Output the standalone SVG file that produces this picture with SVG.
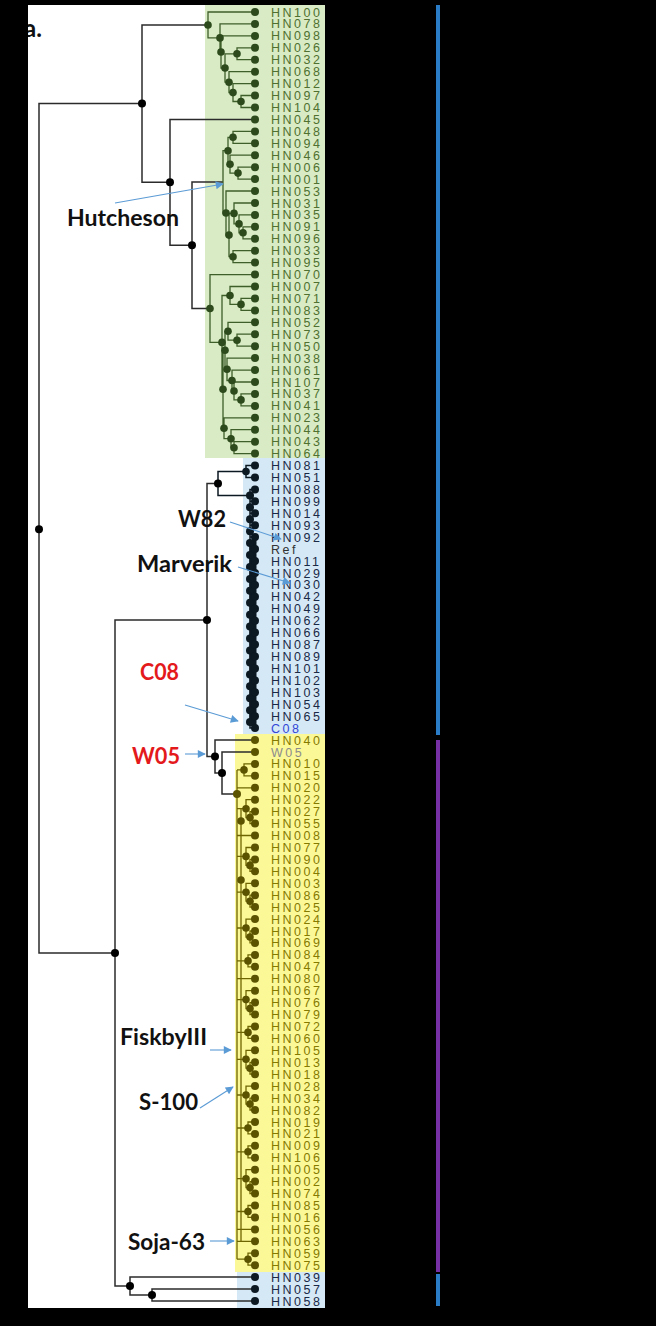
<svg xmlns="http://www.w3.org/2000/svg" width="656" height="1326" viewBox="0 0 656 1326">
<style>
.leaf text{font-family:"Liberation Sans",Arial,sans-serif;font-size:12.5px;letter-spacing:2.5px}
.g circle{fill:#2c4a1b}.g text{fill:#4f7030}
.b circle{fill:#0c1822}.b text{fill:#1a2946}
.y circle{fill:#5c5300}.y text{fill:#857a00}
.outer{fill:none;stroke:#2b2b2b;stroke-width:1.5}
.eg{fill:none;stroke:#3f5f2a;stroke-width:1.3}
.eb{fill:none;stroke:#0c1822;stroke-width:1.5}
.ey{fill:none;stroke:#6e6500;stroke-width:1.3}
.dk{fill:#000}.dg{fill:#2c4a1b}.db{fill:#0c1822}.dy{fill:#5c5300}
.ann{font-family:Lato,"Open Sans",sans-serif;font-weight:bold;font-size:22px;fill:#111}
.red{fill:#e3191c}
.arr{fill:none;stroke:#5b9bd5;stroke-width:1.1;marker-end:url(#ah)}
</style>
<defs>
<marker id="ah" viewBox="0 0 10 10" refX="9" refY="5" markerWidth="9" markerHeight="8" orient="auto" markerUnits="userSpaceOnUse"><path d="M0,0 L10,5 L0,10 z" fill="#5b9bd5"/></marker>
<clipPath id="wc"><rect x="28" y="5" width="297" height="1303"/></clipPath>
</defs>
<rect x="0" y="0" width="656" height="1326" fill="#000"/>
<rect x="28" y="5" width="297" height="1303" fill="#fff"/>
<rect x="205" y="5" width="120" height="453" fill="#d8ebc4"/>
<rect x="243" y="458" width="82" height="276" fill="#d4e8f6"/>
<rect x="235" y="734" width="90" height="538" fill="#fbf898"/>
<rect x="237" y="1272" width="88" height="36" fill="#d4e8f6"/>
<rect x="436" y="5" width="4" height="730" fill="#2a7cc7"/>
<rect x="436" y="740" width="4" height="532" fill="#7630a3"/>
<rect x="436" y="1274" width="4" height="32" fill="#2a7cc7"/>
<text x="24" y="37" clip-path="url(#wc)" style="font-family:Lato,sans-serif;font-weight:bold;font-size:24px;fill:#111">a.</text>

<g id="connectors">
<path class="outer" d="M142 103.6H39V953H115 M208 25H142V182.3H170 M255 119.4H170V245.2H192 M223 181.9H192V308.5H210 M207 620H115V1286H130 M255 1277.1H130V1295H152 M255 1289H152V1301H255 M218 483.4H207V756.5H215 M255 740H215V773H222 M255 752H222V794H237"/>
<path class="eg" d="M255 12H208V37.9H220 M255 23.9H220V52H221 M255 35.9H221V68H225 M237 53.8H225V82.2H229 M255 47.8H237V59.7H255 M255 71.7H229V92.6H233 M255 83.6H233V101.5H241 M255 95.5H241V107.5H255
M228 150.7H223V213H226 M233 137.3H228V164.2H230 M255 131.4H233V143.3H255 M255 155.2H230V173.1H238 M255 167.2H238V179.1H255 M255 191H226V235.1H229 M234 213.4H229V256.7H233 M255 203H234V223.9H239 M255 214.9H239V232.8H243 M255 226.8H243V238.8H255 M255 250.7H233V262.7H255
M255 274.6H210V342.4H222 M230 295.5H222V389.3H223 M255 286.5H230V304.4H241 M255 298.4H241V310.4H255 M225 350.3H223V428.3H224 M228 331.3H225V369.3H227 M255 322.3H228V340.2H237 M255 334.2H237V346.2H255 M255 358.1H227V380.5H232 M255 370.1H232V391H234 M255 382H234V399.9H241 M255 393.9H241V405.9H255 M255 417.8H224V438.7H231 M255 429.7H231V447.7H234 M255 441.7H234V453.6H255"/>
<path class="eb" d="M246 471.5H218V495.4H250 M255 465.5H246V477.5H255 M255 489.4H250V728.1H255 M250 501.3H255 M250 513.3H255 M250 525.2H255 M250 537.1H255 M250 549.1H255 M250 561H255 M250 573H255 M250 584.9H255 M250 596.8H255 M250 608.8H255 M250 620.7H255 M250 632.6H255 M250 644.6H255 M250 656.5H255 M250 668.4H255 M250 680.4H255 M250 692.3H255 M250 704.2H255 M250 716.2H255"/>
<path d="M253 540V726" stroke="#0c1822" stroke-width="7" fill="none"/>
<path class="ey" d="M237 769.9V1259.2 M241 808.7V1241.3
M237 769.9H244 M255 763.9H244V775.8H255 M237 787.8H255
M237 808.7H246 M255 799.7H246V817.6H250 M255 811.6H250V823.6H255 M237 835.5H255
M237 856.4H246 M255 847.5H246V865.4H250 M255 859.4H250V871.3H255
M237 892.2H246 M255 883.3H246V901.2H250 M255 895.2H250V907.1H255
M237 928H246 M255 919.1H246V937H250 M255 931H250V942.9H255
M237 960.9H248 M255 954.9H248V966.8H255 M237 978.7H255
M237 999.6H246 M255 990.7H246V1008.6H250 M255 1002.6H250V1014.5H255
M237 1032.4H248 M255 1026.5H248V1038.4H255
M237 1059.3H246 M255 1050.3H246V1068.2H250 M255 1062.3H250V1074.2H255
M237 1095H246 M255 1086.1H246V1104H250 M255 1098.1H250V1110H255
M237 1128H248 M255 1122H248V1133.9H255
M237 1151.8H248 M255 1145.8H248V1157.8H255
M237 1178.7H246 M255 1169.7H246V1187.6H250 M255 1181.6H250V1193.6H255
M237 1211.5H248 M255 1205.5H248V1217.4H255 M237 1229.4H255 M237 1241.3H255
M237 1259.2H248 M255 1253.2H248V1265.2H255"/>
</g>

<g id="internal-nodes">
<g class="dk"><circle cx="39" cy="529.3" r="4"/><circle cx="142" cy="103.6" r="4"/><circle cx="170" cy="182.3" r="4"/><circle cx="192" cy="245.2" r="4"/><circle cx="115" cy="953" r="4"/><circle cx="207" cy="620" r="4"/><circle cx="218" cy="483.4" r="4"/><circle cx="215" cy="756.5" r="4"/><circle cx="222" cy="773" r="4"/><circle cx="130" cy="1286" r="4"/><circle cx="152" cy="1295" r="4"/></g>
<g class="dg"><circle cx="208" cy="25" r="3.8"/><circle cx="220" cy="37.9" r="3.8"/><circle cx="221" cy="52" r="3.8"/><circle cx="237" cy="53.8" r="3.8"/><circle cx="225" cy="68" r="3.8"/><circle cx="229" cy="82.2" r="3.8"/><circle cx="233" cy="92.6" r="3.8"/><circle cx="241" cy="101.5" r="3.8"/>
<circle cx="228" cy="150.7" r="3.8"/><circle cx="233" cy="137.3" r="3.8"/><circle cx="230" cy="164.2" r="3.8"/><circle cx="238" cy="173.1" r="3.8"/><circle cx="226" cy="213" r="3.8"/><circle cx="229" cy="235.1" r="3.8"/><circle cx="234" cy="213.4" r="3.8"/><circle cx="239" cy="223.9" r="3.8"/><circle cx="243" cy="232.8" r="3.8"/><circle cx="233" cy="256.7" r="3.8"/>
<circle cx="210" cy="308.5" r="3.8"/><circle cx="222" cy="342.4" r="3.8"/><circle cx="230" cy="295.5" r="3.8"/><circle cx="241" cy="304.4" r="3.8"/><circle cx="223" cy="389.3" r="3.8"/><circle cx="225" cy="350.3" r="3.8"/><circle cx="228" cy="331.3" r="3.8"/><circle cx="237" cy="340.2" r="3.8"/><circle cx="227" cy="369.3" r="3.8"/><circle cx="232" cy="380.5" r="3.8"/><circle cx="234" cy="391" r="3.8"/><circle cx="241" cy="399.9" r="3.8"/><circle cx="224" cy="428.3" r="3.8"/><circle cx="231" cy="438.7" r="3.8"/><circle cx="234" cy="447.7" r="3.8"/></g>
<g class="db"><circle cx="246" cy="471.5" r="3.8"/><circle cx="250" cy="495.4" r="4"/><circle cx="250" cy="507.3" r="4"/><circle cx="250" cy="519.2" r="4"/><circle cx="250" cy="531.2" r="4"/><circle cx="250" cy="543.1" r="4"/><circle cx="250" cy="555" r="4"/><circle cx="250" cy="567" r="4"/><circle cx="250" cy="578.9" r="4"/><circle cx="250" cy="590.8" r="4"/><circle cx="250" cy="602.8" r="4"/><circle cx="250" cy="614.7" r="4"/><circle cx="250" cy="626.6" r="4"/><circle cx="250" cy="638.6" r="4"/><circle cx="250" cy="650.5" r="4"/><circle cx="250" cy="662.4" r="4"/><circle cx="250" cy="674.4" r="4"/><circle cx="250" cy="686.3" r="4"/><circle cx="250" cy="698.2" r="4"/><circle cx="250" cy="710.2" r="4"/><circle cx="250" cy="722.1" r="4"/></g>
<g class="dy"><circle cx="237" cy="794" r="4"/><circle cx="244" cy="769.9" r="3.8"/><circle cx="246" cy="808.7" r="3.8"/><circle cx="250" cy="817.6" r="3.8"/><circle cx="241" cy="821" r="3.8"/><circle cx="246" cy="856.4" r="3.8"/><circle cx="250" cy="865.4" r="3.8"/><circle cx="246" cy="892.2" r="3.8"/><circle cx="250" cy="901.2" r="3.8"/><circle cx="241" cy="880" r="3.8"/><circle cx="246" cy="928" r="3.8"/><circle cx="250" cy="937" r="3.8"/><circle cx="248" cy="960.9" r="3.8"/><circle cx="246" cy="999.6" r="3.8"/><circle cx="250" cy="1008.6" r="3.8"/><circle cx="248" cy="1032.4" r="3.8"/><circle cx="246" cy="1059.3" r="3.8"/><circle cx="250" cy="1068.2" r="3.8"/><circle cx="246" cy="1095" r="3.8"/><circle cx="250" cy="1104" r="3.8"/><circle cx="248" cy="1128" r="3.8"/><circle cx="248" cy="1151.8" r="3.8"/><circle cx="246" cy="1178.7" r="3.8"/><circle cx="250" cy="1187.6" r="3.8"/><circle cx="248" cy="1211.5" r="3.8"/><circle cx="248" cy="1259.2" r="3.8"/></g>
</g>

<g id="leaves">
<g id="n-HN100" class="leaf g" transform="translate(0,12)"><circle cx="255" r="4"/><text x="271" y="4.5">HN100</text></g>
<g id="n-HN078" class="leaf g" transform="translate(0,23.9)"><circle cx="255" r="4"/><text x="271" y="4.5">HN078</text></g>
<g id="n-HN098" class="leaf g" transform="translate(0,35.9)"><circle cx="255" r="4"/><text x="271" y="4.5">HN098</text></g>
<g id="n-HN026" class="leaf g" transform="translate(0,47.8)"><circle cx="255" r="4"/><text x="271" y="4.5">HN026</text></g>
<g id="n-HN032" class="leaf g" transform="translate(0,59.7)"><circle cx="255" r="4"/><text x="271" y="4.5">HN032</text></g>
<g id="n-HN068" class="leaf g" transform="translate(0,71.7)"><circle cx="255" r="4"/><text x="271" y="4.5">HN068</text></g>
<g id="n-HN012" class="leaf g" transform="translate(0,83.6)"><circle cx="255" r="4"/><text x="271" y="4.5">HN012</text></g>
<g id="n-HN097" class="leaf g" transform="translate(0,95.5)"><circle cx="255" r="4"/><text x="271" y="4.5">HN097</text></g>
<g id="n-HN104" class="leaf g" transform="translate(0,107.5)"><circle cx="255" r="4"/><text x="271" y="4.5">HN104</text></g>
<g id="n-HN045" class="leaf g" transform="translate(0,119.4)"><circle cx="255" r="4"/><text x="271" y="4.5">HN045</text></g>
<g id="n-HN048" class="leaf g" transform="translate(0,131.4)"><circle cx="255" r="4"/><text x="271" y="4.5">HN048</text></g>
<g id="n-HN094" class="leaf g" transform="translate(0,143.3)"><circle cx="255" r="4"/><text x="271" y="4.5">HN094</text></g>
<g id="n-HN046" class="leaf g" transform="translate(0,155.2)"><circle cx="255" r="4"/><text x="271" y="4.5">HN046</text></g>
<g id="n-HN006" class="leaf g" transform="translate(0,167.2)"><circle cx="255" r="4"/><text x="271" y="4.5">HN006</text></g>
<g id="n-HN001" class="leaf g" transform="translate(0,179.1)"><circle cx="255" r="4"/><text x="271" y="4.5">HN001</text></g>
<g id="n-HN053" class="leaf g" transform="translate(0,191)"><circle cx="255" r="4"/><text x="271" y="4.5">HN053</text></g>
<g id="n-HN031" class="leaf g" transform="translate(0,203)"><circle cx="255" r="4"/><text x="271" y="4.5">HN031</text></g>
<g id="n-HN035" class="leaf g" transform="translate(0,214.9)"><circle cx="255" r="4"/><text x="271" y="4.5">HN035</text></g>
<g id="n-HN091" class="leaf g" transform="translate(0,226.8)"><circle cx="255" r="4"/><text x="271" y="4.5">HN091</text></g>
<g id="n-HN096" class="leaf g" transform="translate(0,238.8)"><circle cx="255" r="4"/><text x="271" y="4.5">HN096</text></g>
<g id="n-HN033" class="leaf g" transform="translate(0,250.7)"><circle cx="255" r="4"/><text x="271" y="4.5">HN033</text></g>
<g id="n-HN095" class="leaf g" transform="translate(0,262.6)"><circle cx="255" r="4"/><text x="271" y="4.5">HN095</text></g>
<g id="n-HN070" class="leaf g" transform="translate(0,274.6)"><circle cx="255" r="4"/><text x="271" y="4.5">HN070</text></g>
<g id="n-HN007" class="leaf g" transform="translate(0,286.5)"><circle cx="255" r="4"/><text x="271" y="4.5">HN007</text></g>
<g id="n-HN071" class="leaf g" transform="translate(0,298.4)"><circle cx="255" r="4"/><text x="271" y="4.5">HN071</text></g>
<g id="n-HN083" class="leaf g" transform="translate(0,310.4)"><circle cx="255" r="4"/><text x="271" y="4.5">HN083</text></g>
<g id="n-HN052" class="leaf g" transform="translate(0,322.3)"><circle cx="255" r="4"/><text x="271" y="4.5">HN052</text></g>
<g id="n-HN073" class="leaf g" transform="translate(0,334.2)"><circle cx="255" r="4"/><text x="271" y="4.5">HN073</text></g>
<g id="n-HN050" class="leaf g" transform="translate(0,346.2)"><circle cx="255" r="4"/><text x="271" y="4.5">HN050</text></g>
<g id="n-HN038" class="leaf g" transform="translate(0,358.1)"><circle cx="255" r="4"/><text x="271" y="4.5">HN038</text></g>
<g id="n-HN061" class="leaf g" transform="translate(0,370.1)"><circle cx="255" r="4"/><text x="271" y="4.5">HN061</text></g>
<g id="n-HN107" class="leaf g" transform="translate(0,382)"><circle cx="255" r="4"/><text x="271" y="4.5">HN107</text></g>
<g id="n-HN037" class="leaf g" transform="translate(0,393.9)"><circle cx="255" r="4"/><text x="271" y="4.5">HN037</text></g>
<g id="n-HN041" class="leaf g" transform="translate(0,405.9)"><circle cx="255" r="4"/><text x="271" y="4.5">HN041</text></g>
<g id="n-HN023" class="leaf g" transform="translate(0,417.8)"><circle cx="255" r="4"/><text x="271" y="4.5">HN023</text></g>
<g id="n-HN044" class="leaf g" transform="translate(0,429.7)"><circle cx="255" r="4"/><text x="271" y="4.5">HN044</text></g>
<g id="n-HN043" class="leaf g" transform="translate(0,441.7)"><circle cx="255" r="4"/><text x="271" y="4.5">HN043</text></g>
<g id="n-HN064" class="leaf g" transform="translate(0,453.6)"><circle cx="255" r="4"/><text x="271" y="4.5">HN064</text></g>
<g id="n-HN081" class="leaf b" transform="translate(0,465.5)"><circle cx="255" r="4"/><text x="271" y="4.5">HN081</text></g>
<g id="n-HN051" class="leaf b" transform="translate(0,477.5)"><circle cx="255" r="4"/><text x="271" y="4.5">HN051</text></g>
<g id="n-HN088" class="leaf b" transform="translate(0,489.4)"><circle cx="255" r="4"/><text x="271" y="4.5">HN088</text></g>
<g id="n-HN099" class="leaf b" transform="translate(0,501.3)"><circle cx="255" r="4"/><text x="271" y="4.5">HN099</text></g>
<g id="n-HN014" class="leaf b" transform="translate(0,513.3)"><circle cx="255" r="4"/><text x="271" y="4.5">HN014</text></g>
<g id="n-HN093" class="leaf b" transform="translate(0,525.2)"><circle cx="255" r="4"/><text x="271" y="4.5">HN093</text></g>
<g id="n-HN092" class="leaf b" transform="translate(0,537.1)"><circle cx="255" r="4"/><text x="271" y="4.5">HN092</text></g>
<g id="n-Ref" class="leaf b" transform="translate(0,549.1)"><circle cx="255" r="4"/><text x="271" y="4.5" style="fill:#333">Ref</text></g>
<g id="n-HN011" class="leaf b" transform="translate(0,561)"><circle cx="255" r="4"/><text x="271" y="4.5">HN011</text></g>
<g id="n-HN029" class="leaf b" transform="translate(0,573)"><circle cx="255" r="4"/><text x="271" y="4.5">HN029</text></g>
<g id="n-HN030" class="leaf b" transform="translate(0,584.9)"><circle cx="255" r="4"/><text x="271" y="4.5">HN030</text></g>
<g id="n-HN042" class="leaf b" transform="translate(0,596.8)"><circle cx="255" r="4"/><text x="271" y="4.5">HN042</text></g>
<g id="n-HN049" class="leaf b" transform="translate(0,608.8)"><circle cx="255" r="4"/><text x="271" y="4.5">HN049</text></g>
<g id="n-HN062" class="leaf b" transform="translate(0,620.7)"><circle cx="255" r="4"/><text x="271" y="4.5">HN062</text></g>
<g id="n-HN066" class="leaf b" transform="translate(0,632.6)"><circle cx="255" r="4"/><text x="271" y="4.5">HN066</text></g>
<g id="n-HN087" class="leaf b" transform="translate(0,644.6)"><circle cx="255" r="4"/><text x="271" y="4.5">HN087</text></g>
<g id="n-HN089" class="leaf b" transform="translate(0,656.5)"><circle cx="255" r="4"/><text x="271" y="4.5">HN089</text></g>
<g id="n-HN101" class="leaf b" transform="translate(0,668.4)"><circle cx="255" r="4"/><text x="271" y="4.5">HN101</text></g>
<g id="n-HN102" class="leaf b" transform="translate(0,680.4)"><circle cx="255" r="4"/><text x="271" y="4.5">HN102</text></g>
<g id="n-HN103" class="leaf b" transform="translate(0,692.3)"><circle cx="255" r="4"/><text x="271" y="4.5">HN103</text></g>
<g id="n-HN054" class="leaf b" transform="translate(0,704.2)"><circle cx="255" r="4"/><text x="271" y="4.5">HN054</text></g>
<g id="n-HN065" class="leaf b" transform="translate(0,716.2)"><circle cx="255" r="4"/><text x="271" y="4.5">HN065</text></g>
<g id="n-C08" class="leaf b" transform="translate(0,728.1)"><circle cx="255" r="4"/><text x="271" y="4.5" style="fill:#3346d6">C08</text></g>
<g id="n-HN040" class="leaf y" transform="translate(0,740)"><circle cx="255" r="4"/><text x="271" y="4.5">HN040</text></g>
<g id="n-W05" class="leaf y" transform="translate(0,752)"><circle cx="255" r="4"/><text x="271" y="4.5" style="fill:#8c8c8c">W05</text></g>
<g id="n-HN010" class="leaf y" transform="translate(0,763.9)"><circle cx="255" r="4"/><text x="271" y="4.5">HN010</text></g>
<g id="n-HN015" class="leaf y" transform="translate(0,775.8)"><circle cx="255" r="4"/><text x="271" y="4.5">HN015</text></g>
<g id="n-HN020" class="leaf y" transform="translate(0,787.8)"><circle cx="255" r="4"/><text x="271" y="4.5">HN020</text></g>
<g id="n-HN022" class="leaf y" transform="translate(0,799.7)"><circle cx="255" r="4"/><text x="271" y="4.5">HN022</text></g>
<g id="n-HN027" class="leaf y" transform="translate(0,811.6)"><circle cx="255" r="4"/><text x="271" y="4.5">HN027</text></g>
<g id="n-HN055" class="leaf y" transform="translate(0,823.6)"><circle cx="255" r="4"/><text x="271" y="4.5">HN055</text></g>
<g id="n-HN008" class="leaf y" transform="translate(0,835.5)"><circle cx="255" r="4"/><text x="271" y="4.5">HN008</text></g>
<g id="n-HN077" class="leaf y" transform="translate(0,847.5)"><circle cx="255" r="4"/><text x="271" y="4.5">HN077</text></g>
<g id="n-HN090" class="leaf y" transform="translate(0,859.4)"><circle cx="255" r="4"/><text x="271" y="4.5">HN090</text></g>
<g id="n-HN004" class="leaf y" transform="translate(0,871.3)"><circle cx="255" r="4"/><text x="271" y="4.5">HN004</text></g>
<g id="n-HN003" class="leaf y" transform="translate(0,883.3)"><circle cx="255" r="4"/><text x="271" y="4.5">HN003</text></g>
<g id="n-HN086" class="leaf y" transform="translate(0,895.2)"><circle cx="255" r="4"/><text x="271" y="4.5">HN086</text></g>
<g id="n-HN025" class="leaf y" transform="translate(0,907.1)"><circle cx="255" r="4"/><text x="271" y="4.5">HN025</text></g>
<g id="n-HN024" class="leaf y" transform="translate(0,919.1)"><circle cx="255" r="4"/><text x="271" y="4.5">HN024</text></g>
<g id="n-HN017" class="leaf y" transform="translate(0,931)"><circle cx="255" r="4"/><text x="271" y="4.5">HN017</text></g>
<g id="n-HN069" class="leaf y" transform="translate(0,942.9)"><circle cx="255" r="4"/><text x="271" y="4.5">HN069</text></g>
<g id="n-HN084" class="leaf y" transform="translate(0,954.9)"><circle cx="255" r="4"/><text x="271" y="4.5">HN084</text></g>
<g id="n-HN047" class="leaf y" transform="translate(0,966.8)"><circle cx="255" r="4"/><text x="271" y="4.5">HN047</text></g>
<g id="n-HN080" class="leaf y" transform="translate(0,978.7)"><circle cx="255" r="4"/><text x="271" y="4.5">HN080</text></g>
<g id="n-HN067" class="leaf y" transform="translate(0,990.7)"><circle cx="255" r="4"/><text x="271" y="4.5">HN067</text></g>
<g id="n-HN076" class="leaf y" transform="translate(0,1002.6)"><circle cx="255" r="4"/><text x="271" y="4.5">HN076</text></g>
<g id="n-HN079" class="leaf y" transform="translate(0,1014.5)"><circle cx="255" r="4"/><text x="271" y="4.5">HN079</text></g>
<g id="n-HN072" class="leaf y" transform="translate(0,1026.5)"><circle cx="255" r="4"/><text x="271" y="4.5">HN072</text></g>
<g id="n-HN060" class="leaf y" transform="translate(0,1038.4)"><circle cx="255" r="4"/><text x="271" y="4.5">HN060</text></g>
<g id="n-HN105" class="leaf y" transform="translate(0,1050.3)"><circle cx="255" r="4"/><text x="271" y="4.5">HN105</text></g>
<g id="n-HN013" class="leaf y" transform="translate(0,1062.3)"><circle cx="255" r="4"/><text x="271" y="4.5">HN013</text></g>
<g id="n-HN018" class="leaf y" transform="translate(0,1074.2)"><circle cx="255" r="4"/><text x="271" y="4.5">HN018</text></g>
<g id="n-HN028" class="leaf y" transform="translate(0,1086.1)"><circle cx="255" r="4"/><text x="271" y="4.5">HN028</text></g>
<g id="n-HN034" class="leaf y" transform="translate(0,1098.1)"><circle cx="255" r="4"/><text x="271" y="4.5">HN034</text></g>
<g id="n-HN082" class="leaf y" transform="translate(0,1110)"><circle cx="255" r="4"/><text x="271" y="4.5">HN082</text></g>
<g id="n-HN019" class="leaf y" transform="translate(0,1122)"><circle cx="255" r="4"/><text x="271" y="4.5">HN019</text></g>
<g id="n-HN021" class="leaf y" transform="translate(0,1133.9)"><circle cx="255" r="4"/><text x="271" y="4.5">HN021</text></g>
<g id="n-HN009" class="leaf y" transform="translate(0,1145.8)"><circle cx="255" r="4"/><text x="271" y="4.5">HN009</text></g>
<g id="n-HN106" class="leaf y" transform="translate(0,1157.8)"><circle cx="255" r="4"/><text x="271" y="4.5">HN106</text></g>
<g id="n-HN005" class="leaf y" transform="translate(0,1169.7)"><circle cx="255" r="4"/><text x="271" y="4.5">HN005</text></g>
<g id="n-HN002" class="leaf y" transform="translate(0,1181.6)"><circle cx="255" r="4"/><text x="271" y="4.5">HN002</text></g>
<g id="n-HN074" class="leaf y" transform="translate(0,1193.6)"><circle cx="255" r="4"/><text x="271" y="4.5">HN074</text></g>
<g id="n-HN085" class="leaf y" transform="translate(0,1205.5)"><circle cx="255" r="4"/><text x="271" y="4.5">HN085</text></g>
<g id="n-HN016" class="leaf y" transform="translate(0,1217.4)"><circle cx="255" r="4"/><text x="271" y="4.5">HN016</text></g>
<g id="n-HN056" class="leaf y" transform="translate(0,1229.4)"><circle cx="255" r="4"/><text x="271" y="4.5">HN056</text></g>
<g id="n-HN063" class="leaf y" transform="translate(0,1241.3)"><circle cx="255" r="4"/><text x="271" y="4.5">HN063</text></g>
<g id="n-HN059" class="leaf y" transform="translate(0,1253.2)"><circle cx="255" r="4"/><text x="271" y="4.5">HN059</text></g>
<g id="n-HN075" class="leaf y" transform="translate(0,1265.2)"><circle cx="255" r="4"/><text x="271" y="4.5">HN075</text></g>
<g id="n-HN039" class="leaf b" transform="translate(0,1277.1)"><circle cx="255" r="4"/><text x="271" y="4.5">HN039</text></g>
<g id="n-HN057" class="leaf b" transform="translate(0,1289)"><circle cx="255" r="4"/><text x="271" y="4.5">HN057</text></g>
<g id="n-HN058" class="leaf b" transform="translate(0,1301)"><circle cx="255" r="4"/><text x="271" y="4.5">HN058</text></g>
</g>

<g id="annotations">
<g id="a-hutcheson"><path class="arr" d="M115 203L223 184"/><text class="ann" x="67" y="226" textLength="112" lengthAdjust="spacingAndGlyphs">Hutcheson</text></g>
<g id="a-w82"><path class="arr" d="M230 522L281 539"/><text class="ann" x="178" y="527" textLength="48" lengthAdjust="spacingAndGlyphs">W82</text></g>
<g id="a-marverik"><path class="arr" d="M238 567L290 583"/><text class="ann" x="137" y="572" textLength="95" lengthAdjust="spacingAndGlyphs">Marverik</text></g>
<g id="a-c08"><path class="arr" d="M185 705L238 721"/><text class="ann red" x="140" y="680" textLength="39" lengthAdjust="spacingAndGlyphs">C08</text></g>
<g id="a-w05"><path class="arr" d="M185 754L205 754"/><text class="ann red" x="132" y="764" textLength="48" lengthAdjust="spacingAndGlyphs">W05</text></g>
<g id="a-fiskby"><path class="arr" d="M210 1050L231 1050"/><text class="ann" x="120" y="1045" textLength="87" lengthAdjust="spacingAndGlyphs">FiskbyIII</text></g>
<g id="a-s100"><path class="arr" d="M200 1108L233 1087"/><text class="ann" x="139" y="1110" textLength="59" lengthAdjust="spacingAndGlyphs">S-100</text></g>
<g id="a-soja"><path class="arr" d="M210 1241L234 1241"/><text class="ann" x="128" y="1250" textLength="77" lengthAdjust="spacingAndGlyphs">Soja-63</text></g>
</g>
</svg>
